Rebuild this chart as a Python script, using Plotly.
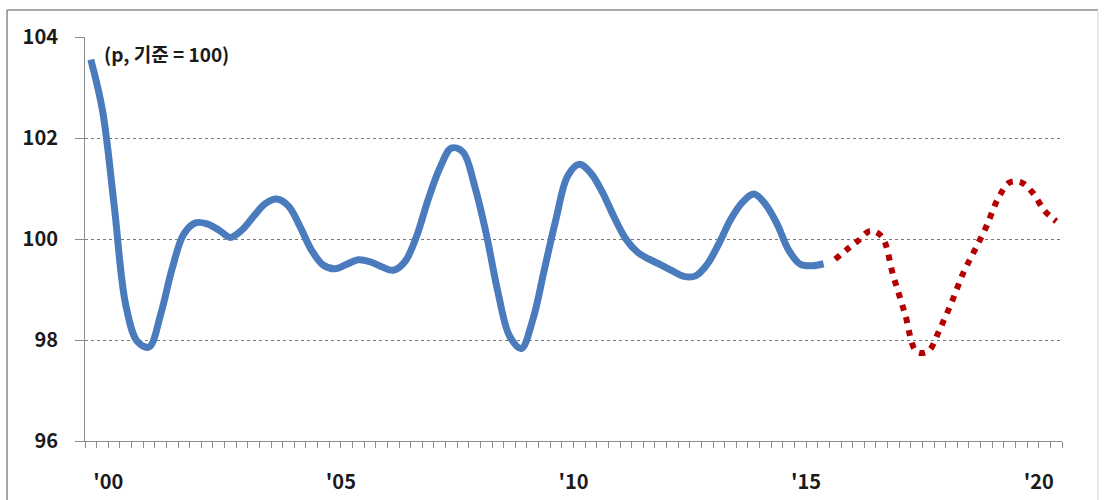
import plotly.graph_objects as go

# Quarterly index (p, base = 100), 2000Q1 .. 2020Q4
years = list(range(2000, 2021))
quarters = [f"{y}Q{q}" for y in years for q in range(1, 5)]

actual = [
    103.55, 102.55, 100.68, 98.70, 97.97, 97.86, 98.50, 99.42,
    100.10, 100.32, 100.30, 100.18, 100.03, 100.18, 100.45, 100.70,
    100.79, 100.65, 100.24, 99.77, 99.48, 99.41, 99.50, 99.59,
    99.55, 99.45, 99.38, 99.55, 100.05, 100.78, 101.40, 101.80,
    101.72, 101.05, 100.10, 98.95, 98.08, 97.83, 98.40, 99.40,
    100.40, 101.25, 101.48, 101.30, 100.92, 100.43, 100.00, 99.74,
    99.60, 99.49, 99.37, 99.26, 99.27, 99.50, 99.91, 100.38,
    100.72, 100.89, 100.69, 100.30, 99.78, 99.50, 99.47, 99.51,
]
outlook = [
    99.60, 99.79, 99.97, 100.16, 100.05, 99.27, 98.52, 97.77,
    97.78, 98.22, 98.74, 99.32, 99.78, 100.25, 100.80, 101.12,
    101.12, 100.91, 100.56, 100.35,
]

year_labels = ["'00", "'05", "'10", "'15", "'20"]
label_years = [2000, 2005, 2010, 2015, 2020]
y_ticks = [96, 98, 100, 102, 104]

# Each quarter occupies one unit; points sit at the middle of their slot
pos = [i + 0.5 for i in range(len(quarters))]
n_act = len(actual)
label_pos = [(y - 2000) * 4 + 2 for y in label_years]

FONT = "Noto Sans CJK KR"
TXT = "#1a1a1a"
AXIS = "#8c8c8c"

fig = go.Figure()
fig.add_trace(go.Scatter(
    x=pos[:n_act], y=actual, mode="lines",
    line=dict(color="#4A7BBD", width=7, shape="spline", smoothing=1.0),
    hoverinfo="skip", showlegend=False,
))
fig.add_trace(go.Scatter(
    x=pos[n_act:n_act + len(outlook)], y=outlook, mode="lines",
    line=dict(color="#B40000", width=6, shape="spline", smoothing=1.0,
              dash="6px,7px"),
    hoverinfo="skip", showlegend=False,
))

fig.update_layout(
    width=1106, height=500,
    margin=dict(l=85, r=44, t=37, b=59),
    paper_bgcolor="white", plot_bgcolor="white",
    xaxis=dict(
        range=[0, len(quarters)],
        tickmode="array", tickvals=label_pos, ticktext=year_labels,
        ticks="", showgrid=False, zeroline=False,
        showline=True, linecolor=AXIS, linewidth=1,
        tickfont=dict(family=FONT, size=20, color=TXT, weight="bold"),
        ticklabelstandoff=23,
        minor=dict(tickmode="linear", tick0=0, dtick=1, ticks="outside",
                   ticklen=6, tickcolor=AXIS, tickwidth=1, showgrid=False),
        automargin=False,
        fixedrange=True,
    ),
    yaxis=dict(
        range=[96, 104], tickvals=y_ticks,
        ticks="outside", ticklen=9, tickcolor=AXIS,
        showgrid=True, gridcolor="#7a7a7a", griddash="dot", gridwidth=1,
        zeroline=False, showline=True, linecolor=AXIS, linewidth=1,
        tickfont=dict(family=FONT, size=20, color=TXT, weight="bold"),
        ticklabelstandoff=13,
        automargin=False,
        fixedrange=True,
    ),
    annotations=[dict(
        xref="paper", yref="paper", x=0.017, y=0.96,
        xanchor="left", yanchor="middle", showarrow=False,
        text="(p, 기준 = 100)",
        font=dict(family=FONT, size=19, color=TXT, weight="bold"),
    )],
    shapes=[
        # outer chart frame
        dict(type="line", xref="paper", yref="paper",
             x0=-0.0798, x1=-0.0798, y0=1.0668, y1=-0.2,
             line=dict(color="#8a8a8a", width=1.5)),
        dict(type="line", xref="paper", yref="paper",
             x0=-0.0798, x1=1.0368, y0=1.0668, y1=1.0668,
             line=dict(color="#8a8a8a", width=1.5)),
        dict(type="line", xref="paper", yref="paper",
             x0=1.0368, x1=1.0368, y0=1.0668, y1=-0.2,
             line=dict(color="#e2e2e2", width=1.5)),
    ],
)

fig.write_html("out.html")
